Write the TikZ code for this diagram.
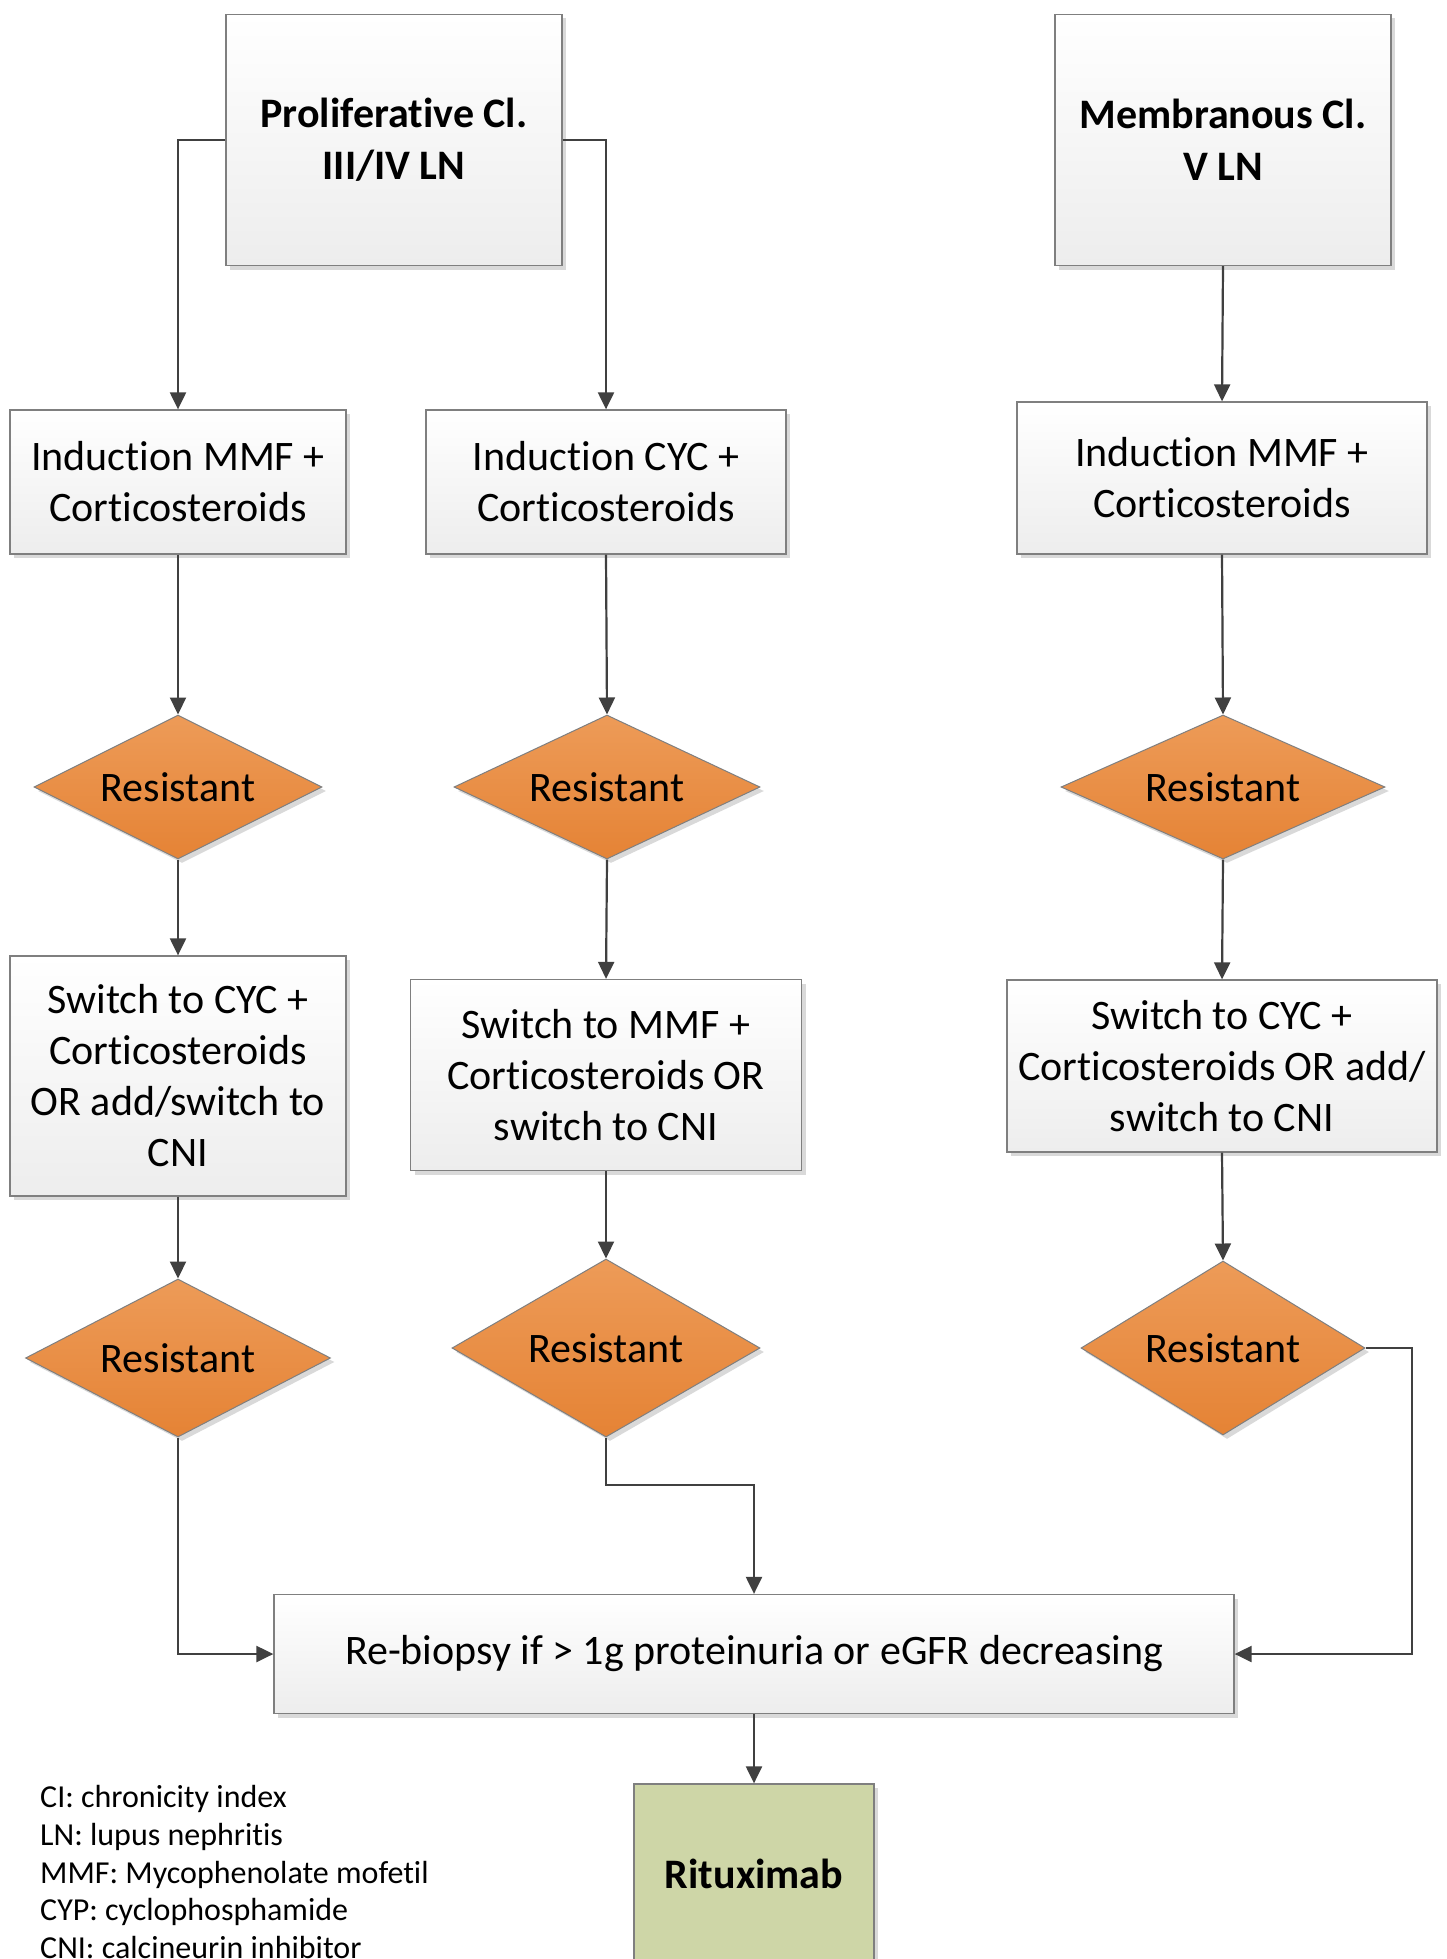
\documentclass[tikz,border=0pt]{standalone}
\usepackage{fontspec}
\setmainfont{Carlito}[Ligatures={NoCommon}, RawFeature={-clig;-calt}]
\usetikzlibrary{shapes.geometric,arrows.meta,shadows}
\definecolor{linec}{HTML}{404040}
\definecolor{boxline}{HTML}{7F7F7F}
\definecolor{boxbot}{HTML}{EDEDED}
\definecolor{orangetop}{RGB}{237,155,88}
\definecolor{orangebot}{RGB}{229,131,53}
\definecolor{ritfill}{RGB}{206,214,167}
\definecolor{shadowc}{HTML}{D9D9D9}
\tikzset{
  basefont/.style={font=\fontsize{42}{51}\selectfont},
  mybox/.style={rectangle, draw=boxline, line width=1.3pt, top color=white, bottom color=boxbot,
    general shadow={fill=shadowc, shadow xshift=4pt, shadow yshift=-4pt},
    align=center, inner sep=0pt, basefont},
  headbox/.style={mybox, font=\fontsize{42}{52}\selectfont\bfseries},
  dia/.style={diamond, aspect=2, draw=boxline, line width=1pt, top color=orangetop, bottom color=orangebot,
    general shadow={fill=shadowc, shadow xshift=4pt, shadow yshift=-4pt},
    inner sep=0pt, basefont},
  ritbox/.style={rectangle, draw=boxline, line width=1.3pt, fill=ritfill,
    general shadow={fill=shadowc, shadow xshift=4pt, shadow yshift=-4pt},
    align=center, inner sep=0pt, font=\fontsize{42}{52}\selectfont\bfseries},
  arr/.style={draw=linec, line width=2.2pt, -{Triangle[length=17pt,width=16pt]}},
}
\begin{document}
\begin{tikzpicture}[x=1pt,y=-1pt]
\useasboundingbox (0,0) rectangle (1446,1959);
\clip (0,0) rectangle (1446,1959);
\fill[white] (0,0) rectangle (1446,1959);

% column headers
\node[headbox, minimum width=336pt, minimum height=251pt] (prolif) at (394,140) {Proliferative Cl.\\III/IV LN};
\node[headbox, minimum width=336pt, minimum height=251pt] (memb) at (1223,140) {Membranous Cl.\\V LN};

% induction
\node[mybox, minimum width=336pt, minimum height=144pt] (indL) at (178,482) {Induction MMF +\\Corticosteroids};
\node[mybox, minimum width=360pt, minimum height=144pt] (indM) at (606,482) {Induction CYC +\\Corticosteroids};
\node[mybox, minimum width=410pt, minimum height=152pt] (indR) at (1222,478) {Induction MMF +\\Corticosteroids};

% first resistant
\node[dia, minimum width=288pt, minimum height=144pt] (resL1) at (178,787) {Resistant};
\node[dia, minimum width=306pt, minimum height=144pt] (resM1) at (607,787) {Resistant};
\node[dia, minimum width=324pt, minimum height=144pt] (resR1) at (1223,787) {Resistant};

% switch
\node[mybox, minimum width=336pt, minimum height=240pt] (swL) at (178,1076) {Switch to CYC +\\Corticosteroids\\OR add/switch to\\CNI};
\node[mybox, minimum width=391pt, minimum height=191pt] (swM) at (606,1075) {Switch to MMF +\\Corticosteroids OR\\switch to CNI};
\node[mybox, minimum width=430pt, minimum height=172pt] (swR) at (1222,1066) {Switch to CYC +\\Corticosteroids OR add/\\switch to CNI};

% second resistant
\node[dia, minimum width=305pt, minimum height=158pt] (resL2) at (178,1358) {Resistant};
\node[dia, minimum width=308pt, minimum height=178pt] (resM2) at (606,1348) {Resistant};
\node[dia, minimum width=284pt, minimum height=174pt] (resR2) at (1223,1348) {Resistant};

% rebiopsy and rituximab
\node[mybox, minimum width=960pt, minimum height=119pt] (rebio) at (754,1654) {Re-biopsy if > 1g proteinuria or eGFR decreasing};
\node[ritbox, minimum width=240pt, minimum height=180pt] (ritux) at (754,1874) {Rituximab};

% legend
\node[anchor=west, align=left, inner sep=0pt, font=\fontsize{32}{37.7}\selectfont] (legend) at (40,1872)
 {CI: chronicity index\\LN: lupus nephritis\\MMF: Mycophenolate mofetil\\CYP: cyclophosphamide\\CNI: calcineurin inhibitor};

% connectors
\draw[arr] (prolif.west) -| (indL.north);
\draw[arr] (prolif.east) -| (indM.north);
\draw[arr] (memb.south) -- (indR.north);

\draw[arr] (indL.south) -- (resL1.north);
\draw[arr] (indM.south) -- (resM1.north);
\draw[arr] (indR.south) -- (resR1.north);

\draw[arr] (resL1.south) -- (swL.north);
\draw[arr] (resM1.south) -- (swM.north);
\draw[arr] (resR1.south) -- (swR.north);

\draw[arr] (swL.south) -- (resL2.north);
\draw[arr] (swM.south) -- (resM2.north);
\draw[arr] (swR.south) -- (resR2.north);

\coordinate (mbend) at (754,1485);
\coordinate (rbend) at (1412,1348);
\draw[arr] (resL2.south) |- (rebio.west);
\draw[arr] (resM2.south) |- (mbend) -- (rebio.north);
\draw[arr] (resR2.east) -- (rbend) |- (rebio.east);

\draw[arr] (rebio.south) -- (ritux.north);
\end{tikzpicture}
\end{document}
